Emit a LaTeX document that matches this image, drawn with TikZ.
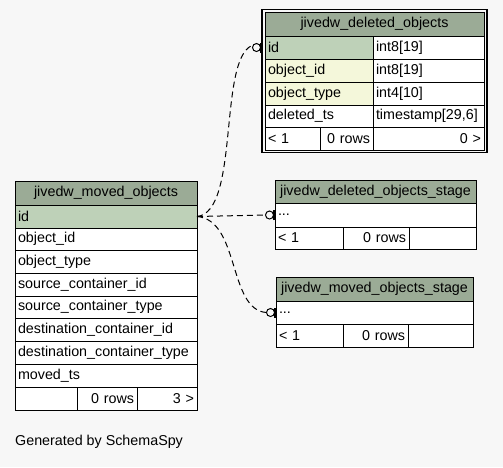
\documentclass[tikz,border=0pt]{standalone}
\usepackage{fontspec}
\setmainfont{Liberation Sans}
\definecolor{bg}{HTML}{F7F7F7}
\definecolor{hdr}{HTML}{9BAB96}
\definecolor{pk}{HTML}{BED1B8}
\definecolor{fk}{HTML}{F4F7DA}
\newcommand\tcell[8]{%
  \pgfmathsetmacro\ch{#5-#3}\pgfmathsetmacro\tw{#4-#2-6}%
  \node[cellbox, fill=#6, align=#8, minimum height=\ch pt, text width=\tw pt] (#1) at (#2,#3) {#7};}
\newcommand\fkmark[2]{%
  \draw[line width=1pt, fill=bg] ([xshift=-#2-5.5pt]#1.west) circle (4pt);
  \draw[line width=3pt] ([xshift=-#2-0.5pt,yshift=-5pt]#1.west) -- ([xshift=-#2-0.5pt,yshift=5pt]#1.west);}
\tikzset{
  cellbox/.style={draw=black, line width=1pt, anchor=north west, inner xsep=3pt, inner ysep=0pt, outer sep=0pt,
    font=\fontsize{14.3}{16}\selectfont},
  link/.style={dash pattern=on 6pt off 4pt, line width=1pt}
}
\begin{document}
\begin{tikzpicture}[x=1pt,y=-1pt]
\fill[bg] (0,0) rectangle (503,467);
\useasboundingbox (0,0) rectangle (503,467);
% jivedw_deleted_objects
\draw[line width=1.5pt] (262,9.5) rectangle (487,152.5);
\tcell{do-h}{265}{12}{484}{36}{hdr}{jivedw\_deleted\_objects}{center}
\tcell{do-id}{265}{36}{373}{59}{pk}{id}{left}
\tcell{do-idt}{373}{36}{484}{59}{white}{int8[19]}{left}
\tcell{do-oid}{265}{59}{373}{82}{fk}{object\_id}{left}
\tcell{do-oidt}{373}{59}{484}{82}{white}{int8[19]}{left}
\tcell{do-ot}{265}{82}{373}{105}{fk}{object\_type}{left}
\tcell{do-ott}{373}{82}{484}{105}{white}{int4[10]}{left}
\tcell{do-ts}{265}{105}{373}{127}{white}{deleted\_ts}{left}
\tcell{do-tst}{373}{105}{484}{127}{white}{timestamp[29,6]}{left}
\tcell{do-f1}{265}{127}{320}{150}{white}{< 1}{left}
\tcell{do-f2}{320}{127}{373}{150}{white}{0 rows}{right}
\tcell{do-f3}{373}{127}{484}{150}{white}{0 >}{right}
% jivedw_moved_objects
\tcell{mo-h}{15}{181}{197}{205}{hdr}{jivedw\_moved\_objects}{center}
\tcell{mo-id}{15}{205}{197}{228}{pk}{id}{left}
\tcell{mo-oid}{15}{228}{197}{250}{white}{object\_id}{left}
\tcell{mo-ot}{15}{250}{197}{273}{white}{object\_type}{left}
\tcell{mo-sci}{15}{273}{197}{296}{white}{source\_container\_id}{left}
\tcell{mo-sct}{15}{296}{197}{318}{white}{source\_container\_type}{left}
\tcell{mo-dci}{15}{318}{197}{341}{white}{destination\_container\_id}{left}
\tcell{mo-dct}{15}{341}{197}{364}{white}{destination\_container\_type}{left}
\tcell{mo-ts}{15}{364}{197}{387}{white}{moved\_ts}{left}
\tcell{mo-f1}{15}{387}{77}{410}{white}{}{left}
\tcell{mo-f2}{77}{387}{137}{410}{white}{0 rows}{right}
\tcell{mo-f3}{137}{387}{197}{410}{white}{3 >}{right}
% jivedw_deleted_objects_stage
\tcell{ds-h}{275}{180}{476}{203}{hdr}{jivedw\_deleted\_objects\_stage}{center}
\tcell{ds-r}{275}{203}{476}{227}{white}{...}{left}
\tcell{ds-f1}{275}{227}{343}{249}{white}{< 1}{left}
\tcell{ds-f2}{343}{227}{409}{249}{white}{0 rows}{right}
\tcell{ds-f3}{409}{227}{476}{249}{white}{}{right}
% jivedw_moved_objects_stage
\tcell{ms-h}{276}{277}{473}{301}{hdr}{jivedw\_moved\_objects\_stage}{center}
\tcell{ms-r}{276}{301}{473}{324}{white}{...}{left}
\tcell{ms-f1}{276}{324}{343}{347}{white}{< 1}{left}
\tcell{ms-f2}{343}{324}{408}{347}{white}{0 rows}{right}
\tcell{ms-f3}{408}{324}{473}{347}{white}{}{right}
% connectors
\draw[link] (mo-id.east) .. controls (240,212) and (218,60) .. ([xshift=-13pt,yshift=2pt]do-id.west);
\fkmark{do-id}{3pt}
\draw[link] (mo-id.east) -- ([xshift=-10pt]ds-r.west);
\fkmark{ds-r}{0pt}
\draw[link] (mo-id.east) .. controls (240,220) and (228,310) .. ([xshift=-9.5pt]ms-r.west);
\fkmark{ms-r}{0pt}
\node[anchor=west, inner sep=0pt, font=\fontsize{14.3}{16}\selectfont] (gen) at (15,442) {Generated by SchemaSpy};
\end{tikzpicture}
\end{document}
